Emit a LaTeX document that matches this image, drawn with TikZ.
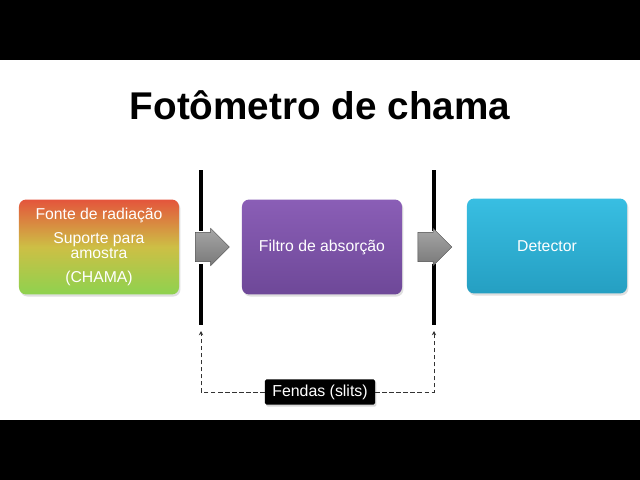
\documentclass[tikz,border=0pt]{standalone}
\usepackage{fontspec}
\setmainfont{Liberation Sans}
\usetikzlibrary{shapes.arrows,shadows,arrows.meta}
\definecolor{chamaTop}{HTML}{E4553C}
\definecolor{chamaMid}{HTML}{CDBF45}
\definecolor{chamaBot}{HTML}{8ED24F}
\definecolor{filtroTop}{HTML}{8A5EB6}
\definecolor{filtroBot}{HTML}{6E4898}
\definecolor{detTop}{HTML}{38BEE2}
\definecolor{detBot}{HTML}{259FC2}

\begin{document}
\begin{tikzpicture}[x=0.025cm,y=-0.025cm,
    caixa/.style={rounded corners=5pt, minimum width=4cm, minimum height=2.37cm,
        align=center, text=white, font=\fontsize{11.2}{10.8}\selectfont,
        drop shadow={opacity=0.25, shadow xshift=1pt, shadow yshift=-1.5pt}},
    seta/.style={single arrow, minimum height=0.85cm, inner xsep=0pt, inner ysep=0.36cm,
        single arrow head extend=0.1cm,
        top color=gray!70, bottom color=gray!95!black, draw=gray!60!black, line width=0.3pt},
    fenda/.style={line width=2.8pt, black}]
    % fundo
    \fill[black] (0,0) rectangle (640,480);
    \fill[white] (0,60) rectangle (640,420);
    \useasboundingbox (0,0) rectangle (640,480);

    \node[font=\fontsize{27.5}{30}\selectfont\bfseries] (titulo) at (320,105) {Fotômetro de chama};

    \node[caixa, top color=chamaTop, bottom color=chamaBot, middle color=chamaMid] (fonte) at (99,247)
        {Fonte de radiação\\[6pt] Suporte para\\ amostra\\[6pt] (CHAMA)};
    \node[caixa, top color=filtroTop, bottom color=filtroBot] (filtro) at (322,247) {Filtro de absorção};
    \node[caixa, top color=detTop, bottom color=detBot] (detector) at (547,246) {Detector};

    % fendas
    \coordinate (f1a) at (201,170); \coordinate (f1b) at (201,231);
    \coordinate (f1c) at (201,264); \coordinate (f1d) at (201,325);
    \coordinate (f2a) at (434,170); \coordinate (f2b) at (434,231);
    \coordinate (f2c) at (434,264); \coordinate (f2d) at (434,325);
    \draw[fenda] (f1a) -- (f1b) (f1c) -- (f1d);
    \draw[fenda] (f2a) -- (f2b) (f2c) -- (f2d);

    \node[seta] (seta1) at (205,247) {};
    \node[seta] (seta2) at (427.5,247) {};

    \node[fill=black, text=white, rounded corners=1pt, minimum width=2.75cm, minimum height=0.63cm,
        font=\fontsize{11.3}{13}\selectfont,
        drop shadow={opacity=0.3, shadow xshift=1pt, shadow yshift=-1.5pt}] (fendas) at (320,392) {Fendas (slits)};

    \draw[densely dashed, gray!40!black, line width=0.5pt, -{Stealth[length=3pt,width=3pt]}]
        (fendas.west) -| ([yshift=-0.15cm]f1d);
    \draw[densely dashed, gray!40!black, line width=0.5pt, -{Stealth[length=3pt,width=3pt]}]
        (fendas.east) -| ([yshift=-0.15cm]f2d);
\end{tikzpicture}
\end{document}
